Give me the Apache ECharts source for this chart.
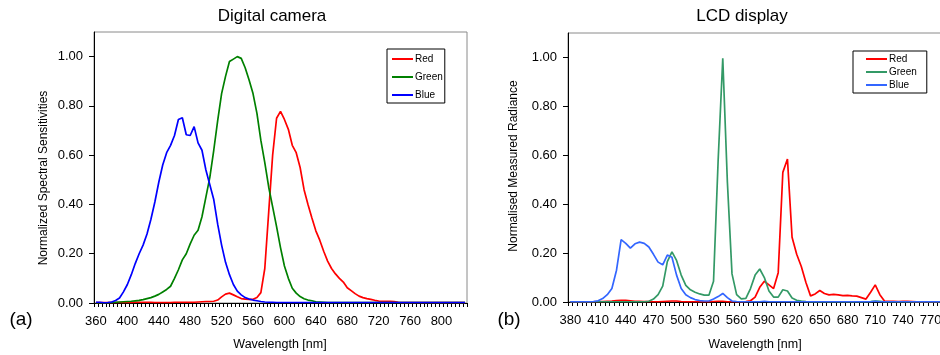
<!DOCTYPE html>
<html>
<head>
<meta charset="utf-8">
<script src="https://cdn.jsdelivr.net/npm/echarts@6/dist/echarts.min.js"></script>
<style>
html,body{margin:0;padding:0;background:#fff;overflow:hidden;width:940px;height:355px;}
#chart{width:960px;height:355px;}
</style>
</head>
<body>
<div id="chart"></div>
<script>
// ---------- Digital camera (a) ----------
var camWavelengths = [360,365,370,375,380,385,390,395,400,405,410,415,420,425,430,435,440,445,450,455,
460,465,470,475,480,485,490,495,500,505,510,515,520,525,530,535,540,545,550,555,
560,565,570,575,580,585,590,595,600,605,610,615,620,625,630,635,640,645,650,655,
660,665,670,675,680,685,690,695,700,705,710,715,720,725,730,735,740,745,750,755,
760,765,770,775,780,785,790,795,800,805,810,815,820,825,830];
var camRed = [0.002,0.002,0.002,0.002,0.002,0.002,0.002,0.002,0.002,0.002,0.003,0.003,0.003,0.003,0.003,0.002,0.002,0.002,0.002,0.002,
0.003,0.003,0.003,0.003,0.003,0.003,0.004,0.005,0.006,0.006,0.007,0.012,0.025,0.036,0.04,0.033,0.025,0.018,0.016,0.015,
0.015,0.022,0.042,0.14,0.37,0.6,0.75,0.778,0.745,0.705,0.64,0.61,0.55,0.46,0.4,0.345,0.293,0.255,0.21,0.17,
0.14,0.118,0.1,0.085,0.062,0.05,0.038,0.028,0.022,0.018,0.015,0.011,0.008,0.007,0.007,0.007,0.006,0.003,0.002,0.002,
0.002,0.002,0.002,0.002,0.002,0.002,0.002,0.002,0.002,0.002,0.002,0.002,0.002,0.002,0.002];
var camGreen = [0.001,0.001,0.001,0.001,0.002,0.003,0.004,0.005,0.006,0.007,0.009,0.011,0.014,0.018,0.022,0.028,0.035,0.045,0.055,0.068,
0.1,0.135,0.175,0.2,0.24,0.275,0.295,0.35,0.43,0.51,0.62,0.74,0.85,0.92,0.98,0.99,1.0,0.993,0.955,0.905,
0.85,0.77,0.66,0.57,0.47,0.39,0.31,0.225,0.15,0.1,0.06,0.04,0.026,0.017,0.012,0.009,0.005,0.004,0.003,0.002,
0.002,0.002,0.002,0.002,0.002,0.002,0.002,0.002,0.002,0.002,0.002,0.002,0.002,0.002,0.002,0.002,0.002,0.002,0.002,0.002,
0.002,0.002,0.002,0.002,0.002,0.002,0.002,0.002,0.002,0.002,0.002,0.002,0.002,0.002,0.002];
var camBlue = [0.003,0.003,0.001,0.002,0.004,0.01,0.02,0.045,0.075,0.115,0.16,0.2,0.235,0.28,0.34,0.41,0.49,0.56,0.61,0.64,
0.68,0.745,0.752,0.683,0.68,0.716,0.65,0.62,0.54,0.48,0.42,0.32,0.235,0.165,0.115,0.075,0.048,0.033,0.022,0.016,
0.012,0.009,0.006,0.004,0.003,0.003,0.002,0.002,0.002,0.002,0.002,0.002,0.002,0.002,0.002,0.002,0.002,0.002,0.002,0.002,
0.002,0.002,0.002,0.002,0.002,0.002,0.002,0.002,0.002,0.002,0.002,0.002,0.002,0.002,0.002,0.002,0.002,0.002,0.002,0.002,
0.002,0.002,0.002,0.002,0.002,0.002,0.002,0.002,0.002,0.002,0.002,0.002,0.002,0.002,0.002];

// ---------- LCD display (b) ----------
var lcdWavelengths = [380,385,390,395,400,405,410,415,420,425,430,435,440,445,450,455,460,465,470,475,
480,485,490,495,500,505,510,515,520,525,530,535,540,545,550,555,560,565,570,575,
580,585,590,595,600,605,610,615,620,625,630,635,640,645,650,655,660,665,670,675,
680,685,690,695,700,705,710,715,720,725,730,735,740,745,750,755,760,765,770,775,780,785,790];
var lcdRed = [0.001,0.001,0.001,0.001,0.001,0.001,0.002,0.002,0.003,0.004,0.006,0.007,0.007,0.005,0.003,0.003,0.002,0.002,0.001,0.001,
0.002,0.003,0.004,0.004,0.002,0.001,0.001,0.001,0.001,0.001,0.001,0.002,0.003,0.003,0.001,0.001,0.001,0.001,0.002,0.005,
0.02,0.06,0.085,0.07,0.055,0.12,0.53,0.585,0.265,0.195,0.145,0.08,0.025,0.033,0.047,0.035,0.029,0.031,0.029,0.026,
0.027,0.025,0.024,0.018,0.012,0.04,0.07,0.03,0.004,0.003,0.003,0.002,0.003,0.003,0.002,0.001,0.001,0.001,0.001,0.001,0.001,0.001,0.001];
var lcdGreen = [0.001,0.001,0.001,0.001,0.001,0.001,0.001,0.001,0.001,0.001,0.001,0.001,0.001,0.001,0.001,0.001,0.001,0.003,0.012,0.03,
0.065,0.165,0.205,0.17,0.11,0.068,0.05,0.04,0.033,0.028,0.028,0.085,0.58,0.997,0.49,0.115,0.03,0.013,0.015,0.055,
0.11,0.135,0.1,0.045,0.02,0.02,0.05,0.045,0.016,0.007,0.004,0.002,0.001,0.001,0.001,0.001,0.001,0.001,0.001,0.001,
0.001,0.001,0.001,0.001,0.001,0.002,0.004,0.003,0.001,0.001,0.001,0.001,0.001,0.001,0.001,0.001,0.001,0.001,0.001,0.001,0.001,0.001,0.001];
var lcdBlue = [0.001,0.001,0.001,0.001,0.001,0.002,0.005,0.014,0.03,0.055,0.13,0.255,0.24,0.22,0.238,0.245,0.24,0.225,0.195,0.163,
0.152,0.192,0.183,0.11,0.055,0.03,0.018,0.01,0.006,0.004,0.004,0.012,0.022,0.035,0.018,0.004,0.002,0.001,0.001,0.001,
0.001,0.001,0.003,0.001,0.001,0.001,0.001,0.001,0.001,0.001,0.001,0.001,0.001,0.001,0.001,0.001,0.001,0.001,0.001,0.001,
0.001,0.001,0.001,0.001,0.001,0.001,0.003,0.001,0.001,0.001,0.001,0.001,0.001,0.001,0.001,0.001,0.001,0.001,0.001,0.001,0.001,0.001,0.001];

var yTicks = [0, 0.2, 0.4, 0.6, 0.8, 1.0];
var legendNames = ['Red', 'Green', 'Blue'];

var FONT = 'Liberation Sans, Arial, Helvetica, sans-serif';
var chart = echarts.init(document.getElementById('chart'), null, {renderer: 'canvas', width: 960, height: 355});

function xAxisCfg(grid, cats, labelInterval) {
  return {
    type: 'category', gridIndex: grid, data: cats.map(String), boundaryGap: true,
    axisLine: {show: true, onZero: false, lineStyle: {color: '#000', width: 1}},
    axisTick: {show: true, interval: 0, length: 4, lineStyle: {color: '#000', width: 1}},
    axisLabel: {interval: labelInterval, fontSize: 13, fontFamily: FONT, color: '#000', margin: 12},
    splitLine: {show: false}
  };
}
function yAxisCfg(grid) {
  return {
    type: 'value', gridIndex: grid, min: 0, max: 1.1,
    axisLine: {show: true, lineStyle: {color: '#000', width: 1}},
    axisTick: {show: true, length: 5, customValues: yTicks, lineStyle: {color: '#000'}},
    axisLabel: {customValues: yTicks, fontSize: 13, fontFamily: FONT, color: '#000', margin: 11,
      formatter: function (v) { return v.toFixed(2); }},
    splitLine: {show: false}
  };
}
function line(name, data, color, xi, yi) {
  return {
    name: name, type: 'line', data: data, xAxisIndex: xi, yAxisIndex: yi,
    symbol: 'none', showSymbol: false, smooth: false,
    lineStyle: {color: color, width: 1.7}, itemStyle: {color: color},
    animation: false
  };
}
function txt(text, x, y, size, extra) {
  var o = {
    type: 'text', x: x, y: y, silent: true,
    style: {text: text, x: 0, y: 0, fill: '#000', font: size + 'px ' + FONT,
      textAlign: 'center', align: 'center', textVerticalAlign: 'middle', verticalAlign: 'middle'}
  };
  if (extra) { for (var k in extra) o[k] = extra[k]; }
  return o;
}

var option = {
  backgroundColor: '#fff',
  animation: false,
  grid: [
    {left: 94, top: 32, width: 373, height: 271, show: true, borderColor: '#8a8a8a', borderWidth: 1, backgroundColor: 'transparent'},
    {left: 568, top: 33, width: 83 * 4.62, height: 269, show: true, borderColor: '#8a8a8a', borderWidth: 1, backgroundColor: 'transparent'}
  ],
  xAxis: [xAxisCfg(0, camWavelengths, 7), xAxisCfg(1, lcdWavelengths, 5)],
  yAxis: [yAxisCfg(0), yAxisCfg(1)],
  legend: [
    {
      data: legendNames, orient: 'vertical', left: 387, top: 49,
      padding: [5, 2, 3, 5], itemGap: 8, itemWidth: 21, itemHeight: 2, icon: 'rect',
      borderColor: '#000', borderWidth: 1, backgroundColor: '#fff',
      textStyle: {fontSize: 10, fontFamily: FONT, color: '#000', padding: [0, 0, 0, -3]},
      selectedMode: false
    },
    {
      data: legendNames.map(function (n) { return 'LCD ' + n; }),
      formatter: function (n) { return n.replace('LCD ', ''); },
      orient: 'vertical', left: 853, top: 51,
      padding: [3, 10, 3, 13], itemGap: 3, itemWidth: 21, itemHeight: 2, icon: 'rect',
      borderColor: '#000', borderWidth: 1, backgroundColor: '#fff',
      textStyle: {fontSize: 10, fontFamily: FONT, color: '#000', padding: [0, 0, 0, -3]},
      selectedMode: false
    }
  ],
  series: [
    line('Red', camRed, '#ff0000', 0, 0),
    line('Green', camGreen, '#008000', 0, 0),
    line('Blue', camBlue, '#0000ff', 0, 0),
    line('LCD Red', lcdRed, '#ff0000', 1, 1),
    line('LCD Green', lcdGreen, '#339966', 1, 1),
    line('LCD Blue', lcdBlue, '#3366ff', 1, 1)
  ],
  graphic: [
    txt('Digital camera', 272, 16, 17),
    txt('LCD display', 742, 16, 17),
    txt('(a)', 21, 320, 19),
    txt('(b)', 509, 320, 19),
    txt('Wavelength [nm]', 280, 345, 12.5),
    txt('Wavelength [nm]', 755, 345, 12.5),
    txt('Normalized Spectral Sensitivities', 44, 178, 12, {rotation: Math.PI / 2}),
    txt('Normalised Measured Radiance', 514, 166, 12, {rotation: Math.PI / 2})
  ]
};
chart.setOption(option);
</script>
</body>
</html>
